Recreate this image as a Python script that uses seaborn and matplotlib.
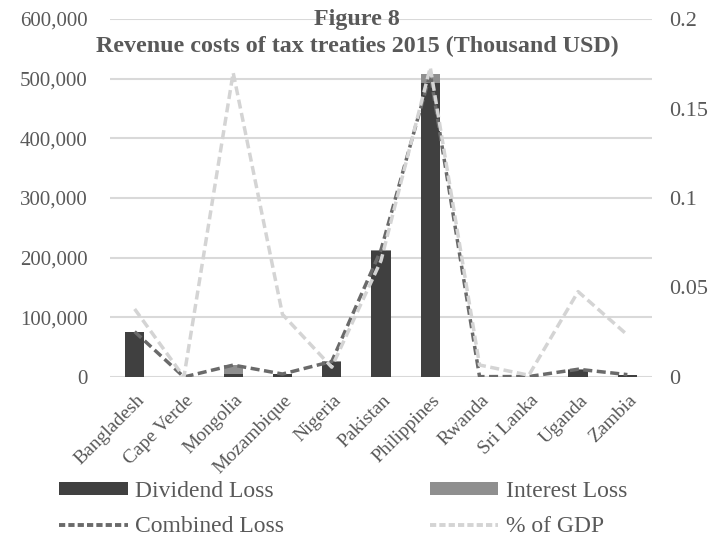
import numpy as np
import matplotlib
matplotlib.use("Agg")
import matplotlib.pyplot as plt
import matplotlib.transforms as mtransforms
from matplotlib.patches import Patch
from matplotlib.lines import Line2D
import seaborn as sns

# Revenue costs of tax treaties, 2015 (thousand USD)
countries = ["Bangladesh", "Cape Verde", "Mongolia", "Mozambique", "Nigeria",
             "Pakistan", "Philippines", "Rwanda", "Sri Lanka", "Uganda", "Zambia"]
dividend_loss = [75000, 0, 5000, 4500, 25500, 212000, 492000, 400, 500, 11000, 4000]
interest_loss = [1000, 0, 15000, 500, 500, 1000, 16000, 200, 300, 2000, 0]
combined_loss = [76000, 0, 20000, 5000, 26000, 213000, 508000, 600, 800, 13000, 4000]
gdp_share = [0.038, 0.0, 0.170, 0.035, 0.0055, 0.065, 0.173, 0.0067, 0.001, 0.0477, 0.0235]

left_ticks = [0, 100000, 200000, 300000, 400000, 500000, 600000]
right_ticks = [0, 0.05, 0.1, 0.15, 0.2]
right_tick_labels = ["0", "0.05", "0.1", "0.15", "0.2"]

title_lines = ["Figure 8", "Revenue costs of tax treaties 2015 (Thousand USD)"]
series_names = ["Dividend Loss", "Interest Loss", "Combined Loss", "% of GDP"]

DIV_COLOR = "#404040"
INT_COLOR = "#8f8f8f"
COMB_COLOR = "#6a6a6a"
GDP_COLOR = "#d4d4d4"
TEXT_COLOR = "#595959"
GRID_COLOR = "#d9d9d9"

sns.set_theme(style="white")
plt.rcParams["font.family"] = ["Liberation Serif", "DejaVu Serif"]

fig = plt.figure(figsize=(7.24, 5.39), dpi=100)
ax = fig.add_axes([110 / 724, 1 - 377 / 539, 542 / 724, 358 / 539])

positions = np.arange(len(countries))
stack_top = np.add(dividend_loss, interest_loss)

# stacked bars: interest on top of dividend
sns.barplot(x=countries, y=stack_top, color=INT_COLOR, width=0.39,
            saturation=1, ax=ax, linewidth=0)
sns.barplot(x=countries, y=dividend_loss, color=DIV_COLOR, width=0.39,
            saturation=1, ax=ax, linewidth=0)

line_dash = (0, (2.6, 1.3))
sns.lineplot(x=positions, y=combined_loss, ax=ax, color=COMB_COLOR,
             linewidth=2.5, linestyle=line_dash, legend=False, zorder=4)

ax.set_ylim(0, 600000)
ax.set_xlim(-0.5, len(countries) - 0.5)
ax.set_yticks(left_ticks)
ax.set_yticklabels([f"{v:,.0f}" for v in left_ticks])
ax.yaxis.grid(True, color=GRID_COLOR, linewidth=1.5)
ax.set_axisbelow(True)
ax.set_xlabel("")
ax.set_ylabel("")
for s in ax.spines.values():
    s.set_visible(False)
ax.tick_params(axis="y", length=0, pad=16, labelsize=15, labelcolor=TEXT_COLOR)
ax.tick_params(axis="x", length=0, pad=15, labelsize=14, labelcolor=TEXT_COLOR)
ax.set_xticks(positions)
ax.set_xticklabels(countries, rotation=45, ha="right", va="center",
                   rotation_mode="anchor")
shift = mtransforms.ScaledTranslation(5 / 72, 0, fig.dpi_scale_trans)
for lbl in ax.get_xticklabels():
    lbl.set_transform(lbl.get_transform() + shift)

ax2 = ax.twinx()
sns.lineplot(x=positions, y=gdp_share, ax=ax2, color=GDP_COLOR,
             linewidth=2.5, linestyle=line_dash, legend=False)
ax2.set_ylim(0, 0.2)
ax2.set_yticks(right_ticks)
ax2.set_yticklabels(right_tick_labels)
ax2.set_ylabel("")
ax2.grid(False)
for s in ax2.spines.values():
    s.set_visible(False)
ax2.tick_params(axis="y", length=0, pad=12, labelsize=16, labelcolor=TEXT_COLOR)

fig.text(357 / 724, 1 - 19 / 539, title_lines[0], ha="center", va="center",
         fontsize=17.3, fontweight="bold", color=TEXT_COLOR)
fig.text(357 / 724, 1 - 46 / 539, title_lines[1], ha="center", va="center",
         fontsize=17.3, fontweight="bold", color=TEXT_COLOR)

legend_dash = (0, (1.6, 0.8))
handles = [
    Patch(facecolor=DIV_COLOR, edgecolor="none"),
    Line2D([], [], color=COMB_COLOR, linewidth=2.8, linestyle=legend_dash),
    Patch(facecolor=INT_COLOR, edgecolor="none"),
    Line2D([], [], color=GDP_COLOR, linewidth=2.8, linestyle=legend_dash),
]
labels = [series_names[0], series_names[2], series_names[1], series_names[3]]
fig.legend(handles, labels, ncol=2, loc="center",
           bbox_to_anchor=(343 / 724, 1 - 509 / 539), frameon=False,
           fontsize=17, labelcolor=TEXT_COLOR, handlelength=2.9,
           handleheight=0.5, handletextpad=0.3, columnspacing=6.2,
           labelspacing=0.6)

fig.savefig("out.png", dpi=100)
